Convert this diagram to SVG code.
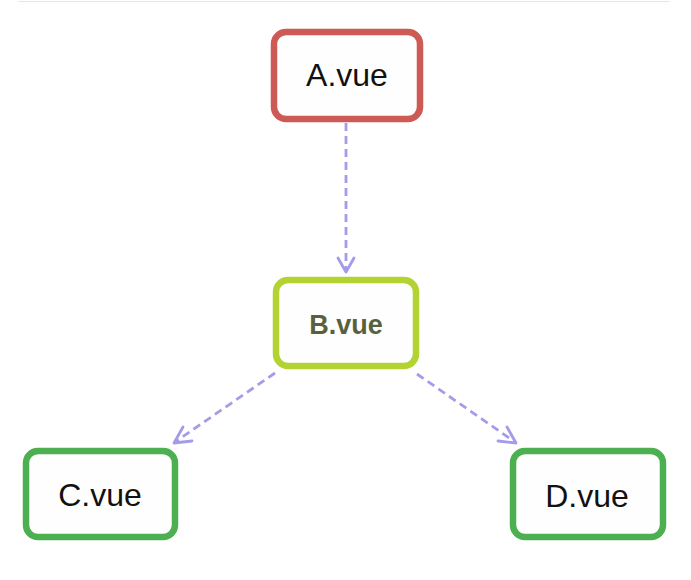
<svg xmlns="http://www.w3.org/2000/svg" width="691" height="580" viewBox="0 0 691 580">
<style>
.box{fill:#fffefe;stroke-width:6.5}
.lbl{font-family:"Liberation Sans",Arial,sans-serif;font-size:32px;fill:#111;text-anchor:middle}
.edge{fill:none;stroke:#a39ce8;stroke-width:2.8;stroke-dasharray:8 5}
.head{fill:none;stroke:#a39ce8;stroke-width:2.8;stroke-linecap:round;stroke-linejoin:round}
</style>
<rect width="691" height="580" fill="#ffffff"/>
<line x1="18" y1="1.5" x2="670" y2="1.5" stroke="#e6e6e6" stroke-width="1"/>
<g id="connectors">
<line class="edge" x1="346" y1="123" x2="346" y2="271"/>
<polyline class="head" points="338,258 346,272 354,258"/>
<line class="edge" x1="275" y1="373" x2="175" y2="442"/>
<polyline class="head" points="183,427 174,443 192,441"/>
<line class="edge" x1="417" y1="374" x2="515" y2="442"/>
<polyline class="head" points="498,441 516,443 507,427"/>
</g>
<g id="node-a">
<rect class="box" x="274" y="32" width="146" height="87" rx="12" stroke="#cd5a55"/>
<text class="lbl" x="347" y="86">A.vue</text>
</g>
<g id="node-b">
<rect class="box" x="276" y="280" width="140" height="86" rx="12" stroke="#b3d333"/>
<text class="lbl" x="346" y="334" style="font-size:27px;font-weight:bold;fill:#58613d">B.vue</text>
</g>
<g id="node-c">
<rect class="box" x="26" y="451" width="149" height="86" rx="12" stroke="#4caf50"/>
<text class="lbl" x="100" y="506">C.vue</text>
</g>
<g id="node-d">
<rect class="box" x="513" y="451" width="150" height="86" rx="12" stroke="#4caf50"/>
<text class="lbl" x="587" y="507">D.vue</text>
</g>
</svg>
